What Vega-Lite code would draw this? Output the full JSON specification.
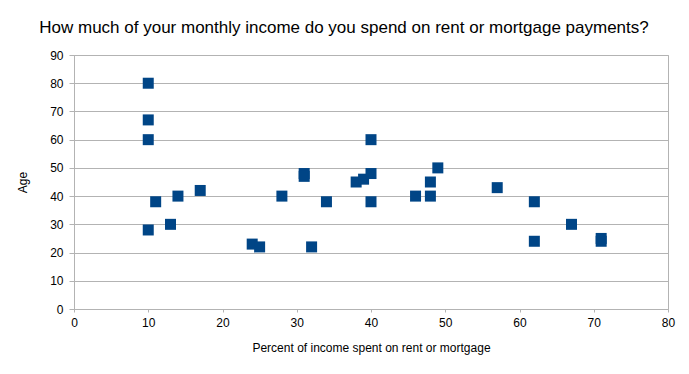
{
  "$schema": "https://vega.github.io/schema/vega-lite/v6.json",
  "autosize": "none",
  "width": 594,
  "height": 254,
  "padding": {"left": 74, "top": 55, "right": 21, "bottom": 65},
  "background": "white",
  "title": {
    "text": "How much of your monthly income do you spend on rent or mortgage payments?",
    "font": "Liberation Sans",
    "fontSize": 17,
    "fontWeight": "normal",
    "color": "#000000",
    "anchor": "middle",
    "dx": -27,
    "offset": 12
  },
  "config": {
    "view": {"stroke": "#b3b3b3", "strokeWidth": 1},
    "axis": {
      "labelFont": "Liberation Sans",
      "titleFont": "Liberation Sans",
      "labelFontSize": 12,
      "titleFontSize": 12,
      "titleFontWeight": "normal",
      "labelColor": "#000000",
      "titleColor": "#000000",
      "gridColor": "#b3b3b3",
      "gridOpacity": 1,
      "domainColor": "#b3b3b3",
      "tickColor": "#b3b3b3",
      "labelFlush": false
    }
  },
  "data": {
    "values": [
      {"pct": 10, "age": 80},
      {"pct": 10, "age": 67},
      {"pct": 10, "age": 60},
      {"pct": 10, "age": 28},
      {"pct": 11, "age": 38},
      {"pct": 13, "age": 30},
      {"pct": 14, "age": 40},
      {"pct": 17, "age": 42},
      {"pct": 24, "age": 23},
      {"pct": 25, "age": 22},
      {"pct": 28, "age": 40},
      {"pct": 31, "age": 48},
      {"pct": 31, "age": 47},
      {"pct": 32, "age": 22},
      {"pct": 34, "age": 38},
      {"pct": 38, "age": 45},
      {"pct": 39, "age": 46},
      {"pct": 40, "age": 60},
      {"pct": 40, "age": 48},
      {"pct": 40, "age": 38},
      {"pct": 46, "age": 40},
      {"pct": 48, "age": 45},
      {"pct": 48, "age": 40},
      {"pct": 49, "age": 50},
      {"pct": 57, "age": 43},
      {"pct": 62, "age": 38},
      {"pct": 62, "age": 24},
      {"pct": 67, "age": 30},
      {"pct": 71, "age": 25},
      {"pct": 71, "age": 24}
    ]
  },
  "mark": {"type": "square", "size": 121, "color": "#004586", "opacity": 1, "filled": true},
  "encoding": {
    "x": {
      "field": "pct",
      "type": "quantitative",
      "title": "Percent of income spent on rent or mortgage",
      "scale": {"domain": [0, 80], "nice": false, "zero": true},
      "axis": {"values": [0,10,20,30,40,50,60,70,80], "grid": false, "tickSize": 3, "titlePadding": 14, "labelPadding": 5}
    },
    "y": {
      "field": "age",
      "type": "quantitative",
      "title": "Age",
      "scale": {"domain": [0, 90], "nice": false},
      "axis": {"values": [0,10,20,30,40,50,60,70,80,90], "tickSize": 5, "titlePadding": 20, "labelPadding": 6}
    }
  }
}
